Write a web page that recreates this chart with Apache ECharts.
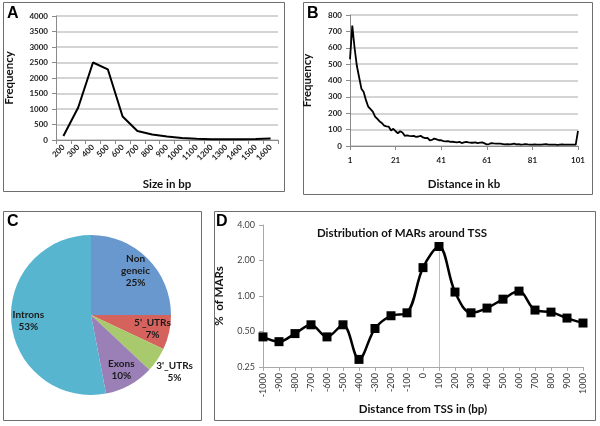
<!DOCTYPE html>
<html>
<head>
<meta charset="utf-8">
<script src="https://cdn.jsdelivr.net/npm/echarts@6/dist/echarts.min.js"></script>
<style>
html,body{margin:0;padding:0;background:#fff;}
#chart{width:600px;height:426px;}
</style>
</head>
<body>
<div id="chart"></div>
<script>
// Panel A: MAR size distribution
const aCats = ['200','300','400','500','600','700','800','900','1000','1100','1200','1300','1400','1500','1600'];
const aFreq = [130, 1050, 2500, 2280, 760, 290, 180, 110, 65, 40, 28, 22, 25, 30, 45];

// Panel B: distance distribution (1..101 kb)
const bCats = Array.from({length:101}, (_, i) => String(i + 1));
const bFreq = [530,735,600,490,420,350,330,280,240,225,
               210,180,165,150,140,125,120,118,95,105,
               90,78,90,82,62,65,62,60,62,55,
               58,62,52,48,50,35,38,45,40,35,
               35,30,28,30,25,26,24,22,25,18,
               22,25,22,20,20,22,18,20,22,16,
               10,12,18,16,15,14,14,12,10,12,
               10,12,14,10,11,9,10,12,10,9,
               8,10,9,9,8,10,12,9,8,9,
               8,7,9,10,8,8,9,8,8,8,
               92];

// Panel C: genomic location of MARs (%)
const cNames = ['Non geneic', "5'_UTRs", "3'_UTRs", 'Exons', 'Introns'];
const cValues = [25, 7, 5, 10, 53];
const cColors = ['#6898cd', '#d6625e', '#a8c96c', '#9a80b7', '#57b5cf'];

// Panel D: distribution around TSS
const dCats = ['-1000','-900','-800','-700','-600','-500','-400','-300','-200','-100','0',
               '100','200','300','400','500','600','700','800','900','1000'];
const dVals = [0.45,0.41,0.48,0.57,0.45,0.57,0.29,0.53,0.68,0.72,1.74,
               2.63,1.08,0.72,0.79,0.94,1.10,0.76,0.73,0.65,0.59];

const FONT = 'Lato, "Open Sans", sans-serif';
const chart = echarts.init(document.getElementById('chart'), null, {renderer:'canvas'});

const peakIdx = aFreq.indexOf(Math.max(...aFreq));
const tssIdx = dCats.indexOf('100');

function sliceLabel(p){ return p.name.replace(' ', '\n') + '\n' + p.value + '%'; }

const axisGrey = {lineStyle:{color:'#8a8a8a', width:1}};
const tickLbl = {fontFamily:FONT, fontSize:8, fontWeight:'bold', color:'#222'};
const nameStyle = {fontFamily:FONT, fontSize:11.5, fontWeight:'bold', color:'#111'};
const plain = v => String(v);

const option = {
  animation:false,
  backgroundColor:'#fff',
  grid:[
    {left:56, top:16, width:222, height:124},
    {left:350, top:15, width:228, height:131},
    {left:263, top:225, width:320, height:142}
  ],
  xAxis:[
    {type:'category', gridIndex:0, data:aCats, boundaryGap:true,
     axisLine:axisGrey, axisTick:{show:true, length:4, lineStyle:{color:'#8a8a8a'}},
     axisLabel:Object.assign({rotate:45, interval:0, margin:6}, tickLbl),
     name:'Size in bp', nameLocation:'middle', nameGap:38, nameTextStyle:nameStyle},
    {type:'category', gridIndex:1, data:bCats, boundaryGap:false,
     axisLine:axisGrey, axisTick:{show:true, interval:19, length:4, lineStyle:{color:'#8a8a8a'}},
     axisLabel:Object.assign({interval:19, margin:10}, tickLbl),
     name:'Distance in kb', nameLocation:'middle', nameGap:32, nameTextStyle:nameStyle},
    {type:'category', gridIndex:2, data:dCats, boundaryGap:false,
     axisLine:{lineStyle:{color:'#a8a8a8'}}, axisTick:{show:true, interval:0, length:4, lineStyle:{color:'#a8a8a8'}},
     axisLabel:{rotate:90, interval:0, margin:6, fontFamily:FONT, fontSize:9, color:'#333'},
     name:'Distance from TSS in (bp)', nameLocation:'middle', nameGap:36, nameTextStyle:nameStyle}
  ],
  yAxis:[
    {type:'value', gridIndex:0, min:0, max:4000, interval:500,
     axisLine:{show:true, lineStyle:{color:'#8a8a8a'}}, axisTick:{show:true, length:4, lineStyle:{color:'#8a8a8a'}},
     splitLine:{lineStyle:{color:'#c6c6c6', width:1.5}},
     axisLabel:Object.assign({margin:8, formatter:plain}, tickLbl),
     name:'Frequency', nameLocation:'middle', nameGap:41, nameTextStyle:nameStyle},
    {type:'value', gridIndex:1, min:0, max:800, interval:100,
     axisLine:{show:true, lineStyle:{color:'#8a8a8a'}}, axisTick:{show:true, length:4, lineStyle:{color:'#8a8a8a'}},
     splitLine:{lineStyle:{color:'#c6c6c6', width:1.5}},
     axisLabel:Object.assign({margin:8, formatter:plain}, tickLbl),
     name:'Frequency', nameLocation:'middle', nameGap:37, nameTextStyle:nameStyle},
    {type:'log', gridIndex:2, logBase:2, min:0.25, max:4,
     axisLine:{show:true, lineStyle:{color:'#a8a8a8'}}, axisTick:{show:true, length:4, lineStyle:{color:'#a8a8a8'}},
     splitLine:{show:false},
     axisLabel:{margin:8, fontFamily:FONT, fontSize:9, color:'#444', formatter:v => Number(v).toFixed(2)},
     name:'%  of MARs', nameLocation:'middle', nameGap:38, nameTextStyle:nameStyle}
  ],
  series:[
    {type:'line', xAxisIndex:0, yAxisIndex:0, symbol:'none', silent:true,
     lineStyle:{color:'#000', width:2},
     data:aFreq.map((v,i) => i === peakIdx ? {value:v, label:{show:true, position:'top', distance:5, formatter:'{b}', fontFamily:FONT, fontSize:9, fontWeight:'bold', color:'#222'}} : v)},
    {type:'line', xAxisIndex:1, yAxisIndex:1, symbol:'none', silent:true,
     lineStyle:{color:'#000', width:1.8}, data:bFreq},
    {type:'line', xAxisIndex:2, yAxisIndex:2, smooth:0.35, symbol:'rect', symbolSize:9, silent:true,
     itemStyle:{color:'#000'}, lineStyle:{color:'#000', width:2.5}, data:dVals, z:5,
     markLine:{silent:true, symbol:'none', label:{show:false}, lineStyle:{color:'#bdbdbd', width:1, type:'solid'},
       data:[[{coord:[dCats[tssIdx], dVals[tssIdx]]}, {coord:[dCats[tssIdx], 0.25]}]]}},
    {type:'pie', center:[91,315], radius:80, startAngle:90, clockwise:true, silent:true,
     label:{show:false}, labelLine:{show:false}, emphasis:{disabled:true},
     data:cNames.map((n,i) => ({name:n, value:cValues[i], itemStyle:{color:cColors[i]}}))},
    {type:'pie', center:[91,315], radius:[0,120], startAngle:90, clockwise:true, silent:true, z:3,
     itemStyle:{color:'rgba(0,0,0,0)'}, labelLine:{show:false}, emphasis:{disabled:true},
     label:{show:true, position:'inside', formatter:sliceLabel, fontFamily:FONT, fontSize:10, fontWeight:'bold', color:'#1a1a1a', lineHeight:12},
     data:cNames.map((n,i) => ({name:n, value:cValues[i], label:{show:n !== "3'_UTRs"}}))},
    {type:'pie', center:[91,315], radius:[0,196], startAngle:90, clockwise:true, silent:true, z:3,
     itemStyle:{color:'rgba(0,0,0,0)'}, labelLine:{show:false}, emphasis:{disabled:true},
     label:{show:true, position:'inside', formatter:sliceLabel, fontFamily:FONT, fontSize:10, fontWeight:'bold', color:'#1a1a1a', lineHeight:12},
     data:cNames.map((n,i) => ({name:n, value:cValues[i], label:{show:n === "3'_UTRs"}}))}
  ],
  graphic:[
    {type:'rect', shape:{x:3.5,y:2.5,width:281,height:189}, style:{fill:'none', stroke:'#6e6e6e', lineWidth:1}, silent:true},
    {type:'rect', shape:{x:303.5,y:2.5,width:289,height:192}, style:{fill:'none', stroke:'#6e6e6e', lineWidth:1}, silent:true},
    {type:'rect', shape:{x:3.5,y:211.5,width:198,height:209}, style:{fill:'none', stroke:'#6e6e6e', lineWidth:1}, silent:true},
    {type:'rect', shape:{x:214.5,y:211.5,width:381,height:209}, style:{fill:'none', stroke:'#6e6e6e', lineWidth:1}, silent:true},
    {type:'text', left:7, top:6, style:{text:'A', font:'bold 16px "Liberation Sans", Arial, sans-serif', fill:'#000'}},
    {type:'text', left:307, top:6, style:{text:'B', font:'bold 16px "Liberation Sans", Arial, sans-serif', fill:'#000'}},
    {type:'text', left:7, top:214, style:{text:'C', font:'bold 16px "Liberation Sans", Arial, sans-serif', fill:'#000'}},
    {type:'text', left:216, top:214, style:{text:'D', font:'bold 16px "Liberation Sans", Arial, sans-serif', fill:'#000'}},
    {type:'text', x:402, y:233, style:{text:'Distribution of MARs around TSS', font:'bold 11.5px Lato, "Open Sans", sans-serif', fill:'#111', textAlign:'center', textVerticalAlign:'middle'}}
  ]
};
chart.setOption(option);
</script>
</body>
</html>
